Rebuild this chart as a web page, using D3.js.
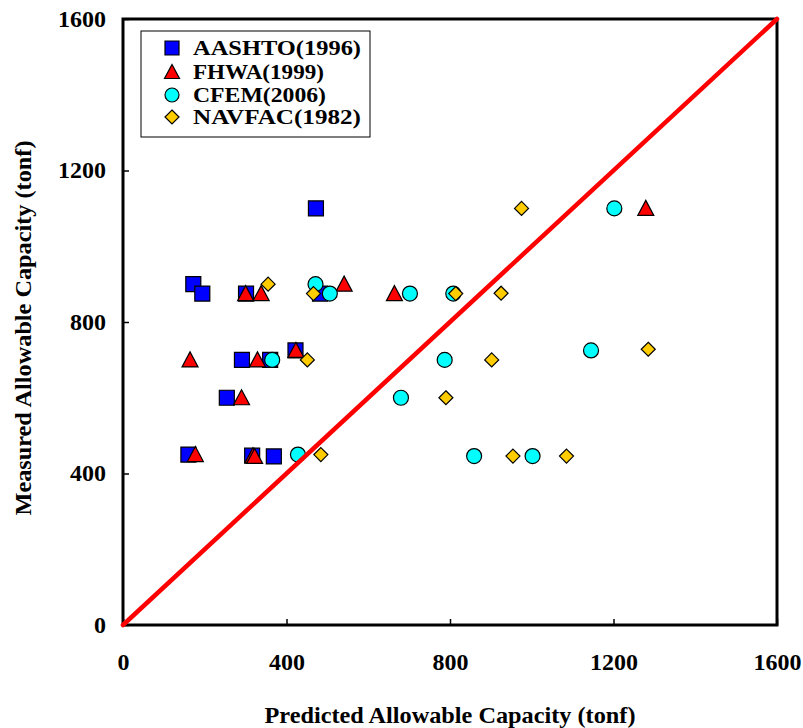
<!DOCTYPE html>
<html>
<head>
<meta charset="utf-8">
<script src="https://cdn.jsdelivr.net/npm/d3@7"></script>
<style>
  body { margin: 0; background: #fff; }
  svg text { font-family: "Liberation Serif", "Times New Roman", serif; font-weight: bold; fill: #000; }
</style>
</head>
<body>
<svg id="chart" width="803" height="728"></svg>
<script>
/*
** Data
*/
var seriesNames = ["AASHTO(1996)", "FHWA(1999)", "CFEM(2006)", "NAVFAC(1982)"]
  , aashtoPredicted = [472, 172, 194, 301, 482, 291, 360, 422, 254, 160, 316, 369]
  , aashtoMeasured  = [1100, 900, 875, 875, 875, 700, 700, 725, 600, 450, 447, 445]
  , fhwaPredicted   = [1279, 300, 338, 541, 664, 164, 329, 423, 290, 177, 318, 322]
  , fhwaMeasured    = [1100, 875, 875, 900, 875, 700, 700, 725, 600, 450, 447, 445]
  , cfemPredicted   = [1202, 471, 506, 702, 808, 787, 365, 1145, 680, 428, 859, 1002]
  , cfemMeasured    = [1100, 900, 875, 875, 875, 700, 700, 725, 600, 450, 446, 446]
  , navfacPredicted = [975, 355, 466, 814, 925, 902, 451, 1285, 790, 484, 954, 1085]
  , navfacMeasured  = [1100, 900, 875, 875, 876, 700, 700, 728, 600, 450, 446, 446]
  , tickValues = [0, 400, 800, 1200, 1600]
  , lineValues = [0, 1600]
;

/*
** Layout
*/
var svg = d3.select("#chart")
  , plotLeft = 123
  , plotRight = 777
  , plotTop = 19
  , plotBottom = 625
  , x = d3.scaleLinear().domain([0, 1600]).range([plotLeft, plotRight])
  , y = d3.scaleLinear().domain([0, 1600]).range([plotBottom, plotTop])
  , colors = ["#0000ff", "#ff0000", "#00ffff", "#ffcc00"]
  , shapes = ["square", "triangle", "circle", "diamond"]
  , series = [
        { predicted: aashtoPredicted, measured: aashtoMeasured }
      , { predicted: fhwaPredicted, measured: fhwaMeasured }
      , { predicted: cfemPredicted, measured: cfemMeasured }
      , { predicted: navfacPredicted, measured: navfacMeasured }
    ]
;

svg.append("rect").attr("width", 803).attr("height", 728).attr("fill", "#fff");

// marker path, centred at 0,0
function markerPath(shape, s) {
    var h = s / 2;
    if (shape === "square") return "M" + (-h) + "," + (-h) + "h" + s + "v" + s + "h" + (-s) + "Z";
    if (shape === "triangle") return "M0," + (-h - 0.5) + "L" + (h + 0.5) + "," + (h - 0.5) + "L" + (-h - 0.5) + "," + (h - 0.5) + "Z";
    if (shape === "diamond") return "M0," + (-h) + "L" + h + ",0L0," + h + "L" + (-h) + ",0Z";
    return d3.arc()({ innerRadius: 0, outerRadius: h, startAngle: 0, endAngle: 2 * Math.PI });
} // markerPath()

/*
** Axes
*/
var xAxis = d3.axisBottom(x).tickValues(tickValues).tickFormat(d3.format("d"))
        .tickSizeInner(-6).tickSizeOuter(0).tickPadding(29)
  , yAxis = d3.axisLeft(y).tickValues(tickValues).tickFormat(d3.format("d"))
        .tickSizeInner(-6).tickSizeOuter(0).tickPadding(17)
;

var gx = svg.append("g").attr("transform", "translate(0," + plotBottom + ")").call(xAxis);
var gy = svg.append("g").attr("transform", "translate(" + plotLeft + ",0)").call(yAxis);

[gx, gy].forEach(function(g) {
    g.selectAll(".domain").remove();
    g.selectAll(".tick line").attr("stroke", "#000").attr("stroke-width", 1.5);
    g.selectAll(".tick text")
        .attr("font-size", 23)
        .attr("fill", "#000")
        .attr("font-family", null)
        .attr("textLength", function(d) { return String(d).length * 12; })
        .attr("lengthAdjust", "spacingAndGlyphs");
});

svg.append("rect")
    .attr("x", plotLeft).attr("y", plotTop)
    .attr("width", plotRight - plotLeft).attr("height", plotBottom - plotTop)
    .attr("fill", "none").attr("stroke", "#000").attr("stroke-width", 3);

// axis titles
svg.append("text")
    .attr("x", (plotLeft + plotRight) / 2).attr("y", 723)
    .attr("text-anchor", "middle").attr("font-size", 24)
    .attr("textLength", 371).attr("lengthAdjust", "spacingAndGlyphs")
    .text("Predicted Allowable Capacity (tonf)");

svg.append("text")
    .attr("transform", "translate(31,328) rotate(-90)")
    .attr("text-anchor", "middle").attr("font-size", 24)
    .attr("textLength", 375).attr("lengthAdjust", "spacingAndGlyphs")
    .text("Measured Allowable Capacity (tonf)");

/*
** Points
*/
series.forEach(function(s, i) {
    svg.append("g").selectAll("path")
        .data(s.predicted.map(function(p, j) { return [p, s.measured[j]]; }))
        .join("path")
          .attr("d", markerPath(shapes[i], i === 3 ? 14 : 15))
          .attr("transform", function(d) { return "translate(" + x(d[0]) + "," + y(d[1]) + ")"; })
          .attr("fill", colors[i])
          .attr("stroke", "#000")
          .attr("stroke-width", 1.2);
});

// 1:1 line
svg.append("line")
    .attr("x1", x(lineValues[0])).attr("y1", y(lineValues[0]))
    .attr("x2", x(lineValues[1])).attr("y2", y(lineValues[1]))
    .attr("stroke", "#ff0000").attr("stroke-width", 4.5).attr("stroke-linecap", "round");

/*
** Legend
*/
var legend = svg.append("g")
  , legendRows = [48, 72, 95, 117]
  , legendWidths = [168, 131, 133, 168]
;
legend.append("rect")
    .attr("x", 141).attr("y", 31).attr("width", 229).attr("height", 106)
    .attr("fill", "#fff").attr("stroke", "#000").attr("stroke-width", 1);

seriesNames.forEach(function(name, i) {
    legend.append("path")
        .attr("d", markerPath(shapes[i], 14))
        .attr("transform", "translate(172," + legendRows[i] + ")")
        .attr("fill", colors[i]).attr("stroke", "#000").attr("stroke-width", 1.2);
    legend.append("text")
        .attr("x", 193).attr("y", legendRows[i] + 7)
        .attr("font-size", 21)
        .attr("textLength", legendWidths[i]).attr("lengthAdjust", "spacingAndGlyphs")
        .text(name);
});
</script>
</body>
</html>
